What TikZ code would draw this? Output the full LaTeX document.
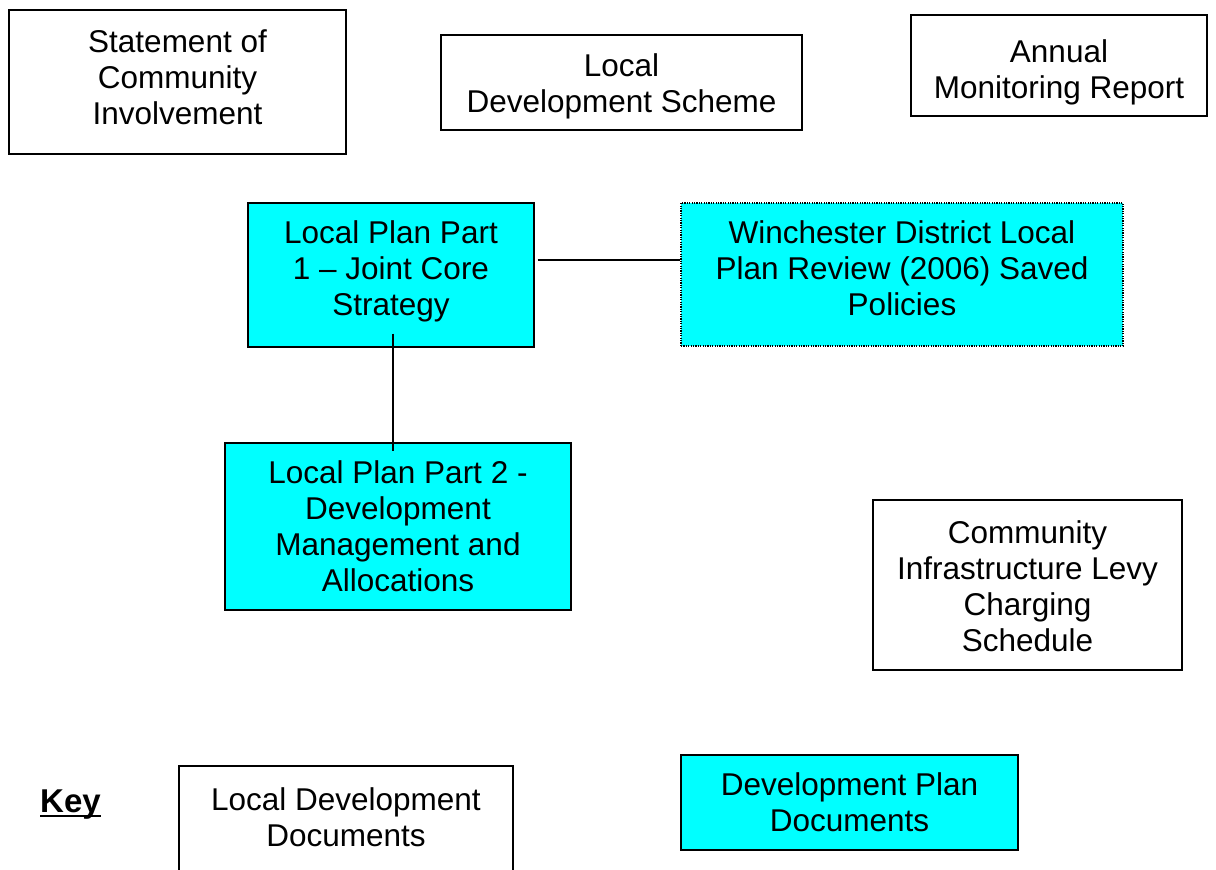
\documentclass[tikz,border=0pt]{standalone}
\usepackage{fontspec}
\setmainfont{Liberation Sans}
\newcommand\keyul[1]{\setbox0\hbox{#1}\rlap{\rule[-4.5pt]{\wd0}{2pt}}\box0}
\newcommand\fl{\rule{0pt}{24pt}}
\definecolor{dpdcyan}{HTML}{00FFFF}
\tikzset{
  box/.style={draw=black, line width=1.3pt, rectangle, inner sep=0pt},
  ldd/.style={box, fill=white},
  dpd/.style={box, fill=dpdcyan},
  dotbox/.style={box, fill=dpdcyan, line width=1.2pt, dash pattern=on 1.2pt off 1.2pt},
  txt/.style={anchor=north, inner sep=0pt, align=center, font=\fontsize{31.5}{36}\selectfont},
  conn/.style={draw=black, line width=1.3pt}
}
\begin{document}
\begin{tikzpicture}[x=1pt,y=-1pt]
\useasboundingbox (0,0) rectangle (1216,870);
\clip (0,0) rectangle (1216,870);
% boxes
\node[ldd, minimum width=337pt, minimum height=144pt] (sci) at (177.5,82) {};
\node[ldd, minimum width=361pt, minimum height=95pt] (lds) at (621.5,82.5) {};
\node[ldd, minimum width=296pt, minimum height=101pt] (amr) at (1059,65.5) {};
\node[dpd, minimum width=286pt, minimum height=144pt] (lp1) at (391,275) {};
\node[dotbox, minimum width=442pt, minimum height=143pt] (win) at (902,274.5) {};
\node[dpd, minimum width=346pt, minimum height=167pt] (lp2) at (398,526.5) {};
\node[ldd, minimum width=309pt, minimum height=170pt] (cil) at (1027.5,585) {};
\node[ldd, minimum width=334pt, minimum height=140pt] (keyldd) at (346,836) {};
\node[dpd, minimum width=337pt, minimum height=95pt] (keydpd) at (849.5,802.5) {};
% texts
\node[txt] (tsci) at (177.5,28) {\fl Statement of\\Community\\Involvement};
\node[txt] (tlds) at (621.5,52) {\fl Local\\Development Scheme};
\node[txt] (tamr) at (1059,38) {\fl Annual\\Monitoring Report};
\node[txt] (tlp1) at (391,219) {\fl Local Plan Part\\1 – Joint Core\\Strategy};
\node[txt] (twin) at (902,219) {\fl Winchester District Local\\Plan Review (2006) Saved\\Policies};
\node[txt] (tlp2) at (398,459) {\fl Local Plan Part 2 -\\Development\\Management and\\Allocations};
\node[txt] (tcil) at (1027.5,519) {\fl Community\\Infrastructure Levy\\Charging\\Schedule};
\node[txt] (tldd) at (346,786) {\fl Local Development\\Documents};
\node[txt] (tdpd) at (849.5,771) {\fl Development Plan\\Documents};
\node[txt, anchor=north west, font=\fontsize{33}{36}\selectfont] (tkey) at (40,788) {\fl\keyul{\textbf{Key}}};
% connectors
\draw[conn] ([xshift=3pt,yshift=15pt]lp1.east) -- ([yshift=14.5pt]win.west);
\draw[conn] ([xshift=2pt,yshift=14pt]lp1.south) -- ([xshift=-5pt,yshift=-9pt]lp2.north);
\end{tikzpicture}
\end{document}
